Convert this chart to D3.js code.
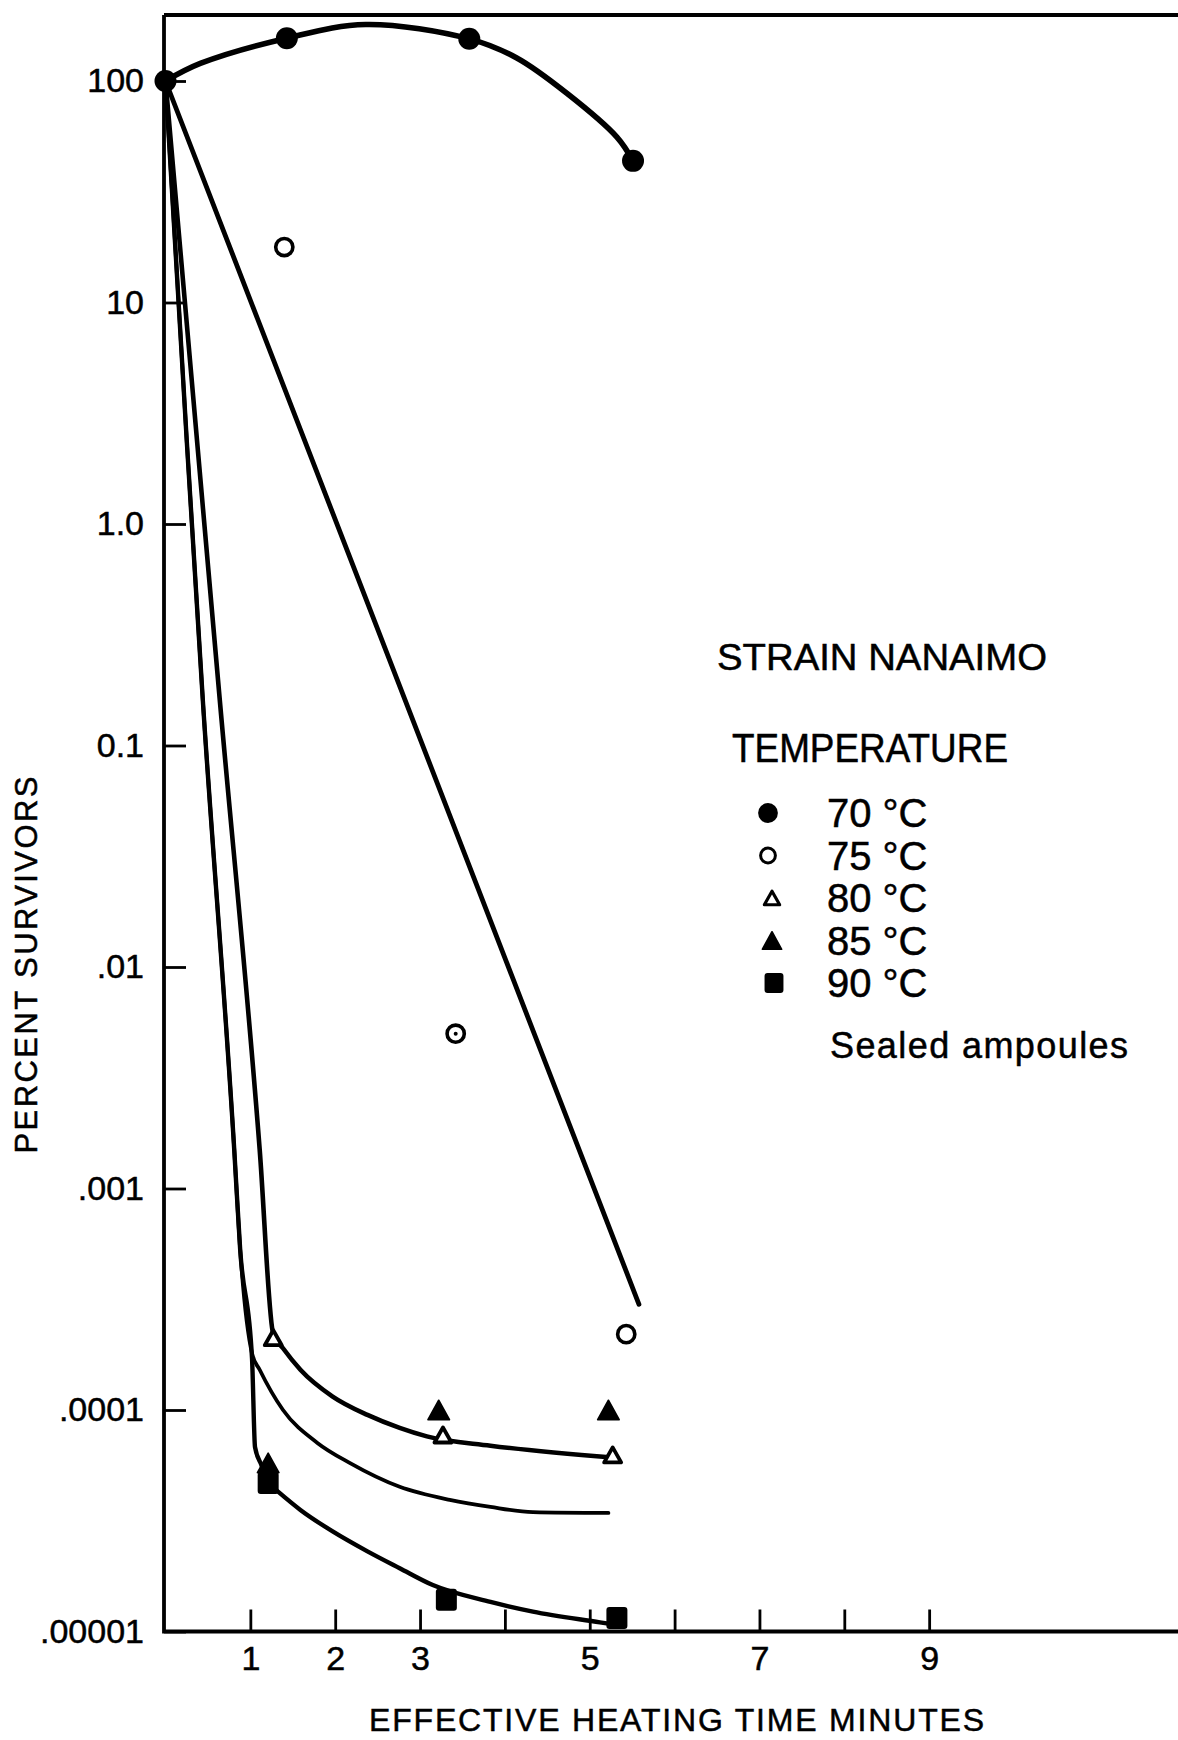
<!DOCTYPE html>
<html>
<head>
<meta charset="utf-8">
<script src="https://cdn.jsdelivr.net/npm/d3@7"></script>
<style>
  html, body { margin: 0; padding: 0; background: #fff; }
  svg { display: block; font-family: "Liberation Sans", Arial, sans-serif; }
  svg text { stroke: #000; stroke-width: 0.5px; }
</style>
</head>
<body>
<svg id="chart" width="1178" height="1740"></svg>
<script>
// Heat inactivation of strain Nanaimo: percent survivors vs. effective heating time

const yTickValues = [100, 10, 1, 0.1, 0.01, 0.001, 0.0001, 0.00001];
const yTickLabels = ["100", "10", "1.0", "0.1", ".01", ".001", ".0001", ".00001"];
const xTickValues = [1, 2, 3, 4, 5, 6, 7, 8, 9];
const xTickLabels = ["1", "2", "3", "", "5", "", "7", "", "9"];

// observed survivors: [minutes, percent]
const obs70 = [[0, 100], [1.43, 156], [3.58, 155], [5.51, 43.6]];
const obs75 = [[1.40, 17.8], [3.42, 0.005], [5.43, 0.00022]];
const obs80 = [[1.27, 0.000212], [3.27, 0.0000771], [5.27, 0.0000627]];
const obs85 = [[1.21, 0.0000577], [3.22, 0.0001], [5.22, 0.0001]];
const obs90 = [[1.21, 0.0000468], [3.31, 0.0000139], [5.32, 0.0000115]];

// hand-drawn survival curves: [minutes, percent]
const fit70 = [[0, 100], [0.41, 120], [1.43, 156], [2.36, 180], [3.58, 155], [4.14, 127], [4.73, 88],
               [5.32, 55.8], [5.51, 43.6]];
const fit75 = [[0, 100], [5.58, 0.0003]];
const fit80 = [[0, 100], [0.64, 0.16], [1.11, 0.0015], [1.27, 0.00022], [1.385, 0.00019], [1.59, 0.000152],
               [1.97, 0.000115], [2.38, 0.000095], [2.76, 0.000083], [3.08, 0.000076], [3.83, 0.000069],
               [5.27, 0.000061]];
const fit85 = [[0, 100], [0.25, 2.39], [0.44, 0.16], [0.81, 0.0015], [0.88, 0.00053], [1.02, 0.00018],
               [1.11, 0.000152], [1.385, 0.0001], [1.79, 0.000071], [2.17, 0.0000577], [2.76, 0.000045],
               [3.35, 0.0000393], [3.83, 0.0000365], [4.33, 0.0000346], [5.22, 0.0000343]];
const fit90 = [[0, 100], [0.25, 2.39], [0.44, 0.16], [0.81, 0.0015], [0.88, 0.00053], [1.02, 0.00017],
               [1.055, 0.000068], [1.13, 0.0000565], [1.21, 0.0000468], [1.33, 0.0000427], [1.59, 0.0000354],
               [1.97, 0.0000283], [2.38, 0.000023], [2.76, 0.0000193], [3.15, 0.0000162], [3.83, 0.0000136],
               [4.33, 0.0000123], [5.12, 0.000011], [5.32, 0.0000107]];

const legendLabels = ["70 °C", "75 °C", "80 °C", "85 °C", "90 °C"];

const svg = d3.select("#chart");
const FONT = '"Liberation Sans", Arial, sans-serif';

const x = d3.scaleLinear().domain([0, 12]).range([165.5, 1183.7]);
const y = d3.scaleLog().domain([1e-5, 100]).range([1631.5, 81]);

const axisX = 164, topY = 15, rightX = 1178;

// frame: left axis, bottom axis, top rule
svg.append("path")
  .attr("d", `M${axisX},${topY}V${y(1e-5)}H${rightX}M${axisX},${topY}H${rightX}`)
  .attr("fill", "none").attr("stroke", "#000").attr("stroke-width", 3.8);

// y axis ticks and labels
const gy = svg.append("g")
  .attr("transform", `translate(${axisX},0)`)
  .call(d3.axisLeft(y).tickValues(yTickValues)
    .tickFormat((d, i) => yTickLabels[i]).tickSize(-22).tickPadding(20));
gy.select(".domain").remove();
gy.selectAll(".tick line").attr("stroke", "#000").attr("stroke-width", 2.8);
gy.selectAll(".tick text").attr("fill", "#000")
  .style("font-size", "34px").style("font-family", FONT);

// x axis ticks and labels
const gx = svg.append("g")
  .attr("transform", `translate(0,${y(1e-5)})`)
  .call(d3.axisBottom(x).tickValues(xTickValues)
    .tickFormat((d, i) => xTickLabels[i]).tickSize(-22).tickPadding(14));
gx.select(".domain").remove();
gx.selectAll(".tick line").attr("stroke", "#000").attr("stroke-width", 2.8);
gx.selectAll(".tick text").attr("fill", "#000")
  .style("font-size", "34px").style("font-family", FONT);

// axis titles
svg.append("text")
  .attr("x", 369).attr("y", 1731)
  .attr("textLength", 615).attr("lengthAdjust", "spacing")
  .style("font-size", "32px").text("EFFECTIVE HEATING TIME MINUTES");

svg.append("text")
  .attr("transform", "translate(37,965) rotate(-90)")
  .attr("text-anchor", "middle")
  .attr("textLength", 377).attr("lengthAdjust", "spacing")
  .style("font-size", "31px").text("PERCENT SURVIVORS");

// curves
const monotone = d3.line().x(d => x(d[0])).y(d => y(d[1])).curve(d3.curveMonotoneX);
const smooth = d3.line().x(d => x(d[0])).y(d => y(d[1])).curve(d3.curveCatmullRom.alpha(0.5));
const curves = [
  { data: fit75, w: 4.8, gen: monotone },
  { data: fit85, w: 3.8, gen: monotone },
  { data: fit90, w: 4.4, gen: monotone },
  { data: fit80, w: 4.6, gen: monotone },
  { data: fit70, w: 5.6, gen: smooth }
];
svg.append("g").selectAll("path").data(curves).join("path")
  .attr("d", c => c.gen(c.data))
  .attr("fill", "none").attr("stroke", "#000")
  .attr("stroke-width", c => c.w)
  .attr("stroke-linejoin", "round").attr("stroke-linecap", "round");

// marker shapes
const triPath = (w, h) => `M0,${-h / 2}L${w / 2},${h / 2}L${-w / 2},${h / 2}Z`;

function drawMarker(g, kind, big) {
  const s = big ? 1 : 0.9;
  if (kind === "fcircle") {
    g.append("circle").attr("r", 11 * s).attr("fill", "#000");
  } else if (kind === "ocircle") {
    g.append("circle").attr("r", (big ? 8.6 : 7.4)).attr("fill", "#fff")
      .attr("stroke", "#000").attr("stroke-width", big ? 3.6 : 3);
  } else if (kind === "otri") {
    g.append("path").attr("d", triPath(17 * s, 15 * s)).attr("fill", "#fff")
      .attr("stroke", "#000").attr("stroke-width", big ? 3.8 : 3.2).attr("stroke-linejoin", "round");
  } else if (kind === "ftri") {
    g.append("path").attr("d", triPath(21.5 * s, 19.5 * s)).attr("fill", "#000")
      .attr("stroke", "#000").attr("stroke-width", 1.6).attr("stroke-linejoin", "round");
  } else if (kind === "fsquare") {
    const w = 21 * s, h = 22 * s;
    g.append("rect").attr("x", -w / 2).attr("y", -h / 2).attr("width", w).attr("height", h)
      .attr("rx", 3).attr("fill", "#000");
  }
}

const series = [
  { data: obs70, kind: "fcircle" },
  { data: obs75, kind: "ocircle" },
  { data: obs80, kind: "otri" },
  { data: obs85, kind: "ftri" },
  { data: obs90, kind: "fsquare" }
];

const gm = svg.append("g");
series.forEach((s, si) => {
  s.data.forEach((d, i) => {
    const g = gm.append("g").attr("transform", `translate(${x(d[0])},${y(d[1])})`);
    drawMarker(g, s.kind, true);
    // the middle 75 °C reading carries a centre dot
    if (si === 1 && i === 1) g.append("circle").attr("r", 2).attr("fill", "#000");
  });
});

// legend
svg.append("text").attr("x", 717).attr("y", 670)
  .attr("textLength", 330).attr("lengthAdjust", "spacingAndGlyphs")
  .style("font-size", "37.5px").text("STRAIN NANAIMO");
svg.append("text").attr("x", 732).attr("y", 762)
  .attr("textLength", 276).attr("lengthAdjust", "spacingAndGlyphs")
  .style("font-size", "40px").text("TEMPERATURE");

const legendMarkX = [768, 768, 772, 772, 774];
series.forEach((s, i) => {
  const base = 827 + 42.5 * i;
  const g = svg.append("g").attr("transform", `translate(${legendMarkX[i]},${base - 14})`);
  drawMarker(g, s.kind, false);
  svg.append("text").attr("x", 827).attr("y", base)
    .style("font-size", "40px").text(legendLabels[i]);
});

svg.append("text").attr("x", 830).attr("y", 1058)
  .attr("textLength", 298).attr("lengthAdjust", "spacing")
  .style("font-size", "36px").text("Sealed ampoules");
</script>
</body>
</html>
